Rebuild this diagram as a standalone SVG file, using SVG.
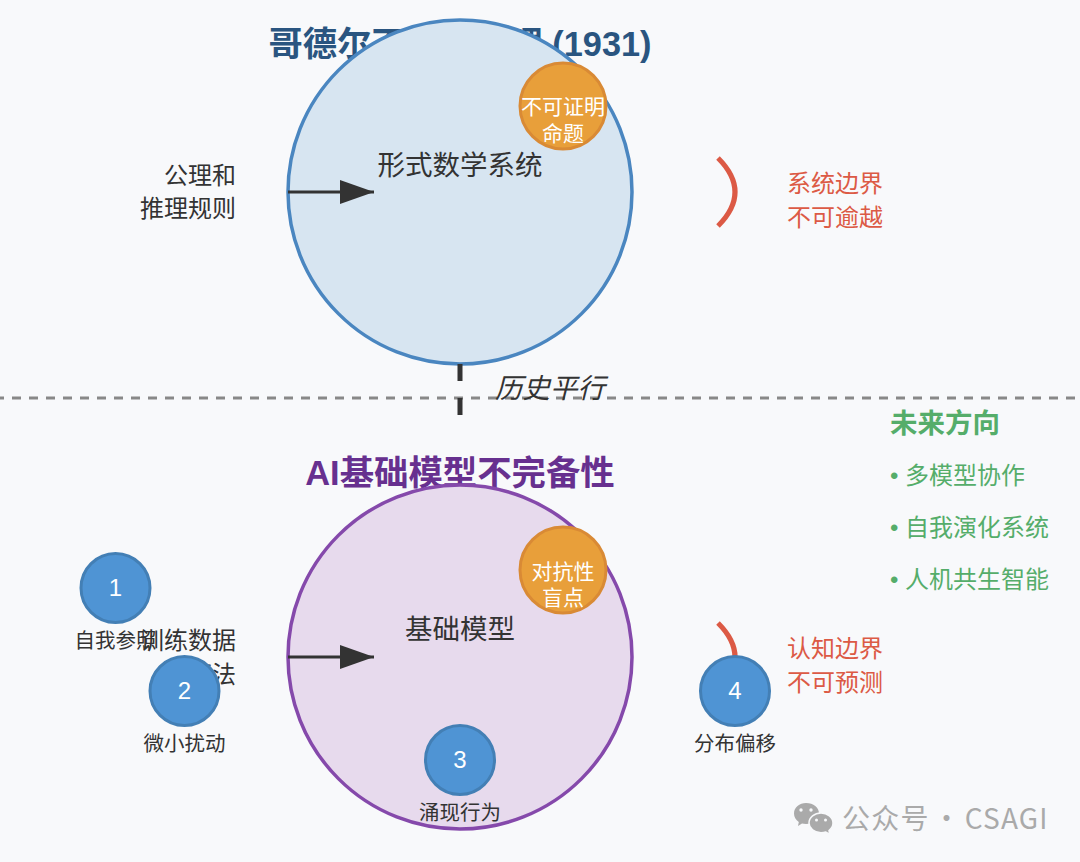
<svg xmlns="http://www.w3.org/2000/svg" width="1080" height="862" viewBox="0 0 1080 862">
<style>
text{font-family:"Liberation Sans","Noto Sans CJK SC",sans-serif;fill:#333}
.m{text-anchor:middle}
.e{text-anchor:end}
.lab{font-size:24px}
.red{font-size:24px;fill:#dc5a45}
.grn{font-size:24px;fill:#55ad6a}
.orange{fill:#e89f3a;stroke:#d98a35;stroke-width:3}
.ow{font-size:21px;fill:#fff;text-anchor:middle}
.num{fill:#4f94d4;stroke:#437fb5;stroke-width:3}
.nt{font-size:24px;fill:#fff;text-anchor:middle}
.nl{font-size:20.500px;text-anchor:middle}
.arc{fill:none;stroke:#dc5a45;stroke-width:5}
.arr{stroke:#333;stroke-width:3;fill:none;marker-end:url(#ah)}
</style>
<defs>
<marker id="ah" markerUnits="userSpaceOnUse" markerWidth="36" markerHeight="26" refX="34" refY="12" orient="auto"><path d="M0 0L34 12L0 24Z" fill="#333"/></marker>
</defs>
<rect width="1080" height="862" fill="#f8f9fb"/>
<text id="title1" x="460" y="56" class="m" font-size="34.300" font-weight="700" style="fill:#2a5580">哥德尔不完备定理 (1931)</text>
<text id="title2" x="460" y="485" class="m" font-size="34.400" font-weight="700" style="fill:#67308f">AI基础模型不完备性</text>
<g id="divider"><line x1="0" y1="398" x2="1080" y2="398" stroke="#888" stroke-width="3" stroke-dasharray="9 8" stroke-dashoffset="5"/></g>
<g id="system-top"><circle cx="460" cy="192" r="172" fill="#d7e5f1" stroke="#4a86c0" stroke-width="3.500"/><text x="460" y="175" class="m" font-size="27.500">形式数学系统</text></g>
<g id="system-bottom"><circle cx="460" cy="657" r="172" fill="#e7daed" stroke="#8549ab" stroke-width="3.500"/><text x="460" y="639" class="m" font-size="27.500">基础模型</text></g>
<g id="connectors">
<line class="arr" x1="288" y1="192" x2="374" y2="192"/>
<line class="arr" x1="288" y1="657" x2="374" y2="657"/>
<line x1="460" y1="364" x2="460" y2="415" stroke="#333" stroke-width="5" stroke-dasharray="17 17"/>
<path class="arc" d="M718 158Q752 192 718 226"/>
<path class="arc" d="M718 623Q752 657 718 691"/>
</g>
<g id="label-axioms"><text x="236" y="184" class="lab e">公理和</text><text x="236" y="217" class="lab e">推理规则</text></g>
<g id="label-data"><text x="236" y="649" class="lab e">训练数据</text><text x="236" y="683" class="lab e">和算法</text></g>
<g id="label-boundary1"><text x="835" y="192" class="red m">系统边界</text><text x="835" y="226" class="red m">不可逾越</text></g>
<g id="label-boundary2"><text x="835" y="657" class="red m">认知边界</text><text x="835" y="691" class="red m">不可预测</text></g>
<g id="label-parallel"><text x="550" y="398" class="m" font-size="27.500" font-style="italic">历史平行</text></g>
<g id="node-unprovable"><circle class="orange" cx="563" cy="106" r="43"/><text x="563" y="114" class="ow">不可证明</text><text x="563" y="141" class="ow">命题</text></g>
<g id="node-adversarial"><circle class="orange" cx="563" cy="570" r="43"/><text x="563" y="579" class="ow">对抗性</text><text x="563" y="605" class="ow">盲点</text></g>
<g id="node-1"><circle class="num" cx="115.500" cy="588" r="34.500"/><text x="115.500" y="596" class="nt">1</text><text x="115.500" y="648" class="nl">自我参照</text></g>
<g id="node-2"><circle class="num" cx="184.500" cy="691" r="34.500"/><text x="184.500" y="699" class="nt">2</text><text x="184.500" y="751" class="nl">微小扰动</text></g>
<g id="node-3"><circle class="num" cx="460" cy="760" r="34.500"/><text x="460" y="768" class="nt">3</text><text x="460" y="820" class="nl">涌现行为</text></g>
<g id="node-4"><circle class="num" cx="735" cy="691" r="34.500"/><text x="735" y="699" class="nt">4</text><text x="735" y="751" class="nl">分布偏移</text></g>
<g id="future"><text x="890" y="433" font-size="27.500" font-weight="700" style="fill:#55ad6a">未来方向</text><text x="890" y="484" class="grn">• 多模型协作</text><text x="890" y="536" class="grn">• 自我演化系统</text><text x="890" y="588" class="grn">• 人机共生智能</text></g>
<g id="watermark"><path d="M806 803c7.500 0 13 4.500 13 10.500 0 6-5.500 10.500-13 10.500-1.500 0-3-.2-4-.5l-4 2.500 .8-4c-3-2-4.800-5-4.800-8.500 0-6 5.500-10.500 12-10.500Z" fill="#aaa"/><path d="M821 813c6.500 0 12 4.500 12 10 0 3-1.500 5.500-4 7.500l.8 4-4-2.500c-1.500.5-3 .7-4.800.7-6.500 0-12-4.500-12-9.700 0-5.500 5.500-10 12-10Z" fill="#aaa" stroke="#f8f9fb" stroke-width="1.500"/><g fill="#f8f9fb"><circle cx="801" cy="810" r="1.700"/><circle cx="811" cy="810" r="1.700"/><circle cx="816.500" cy="820" r="1.500"/><circle cx="825.500" cy="820" r="1.500"/></g><text x="842" y="829" font-size="28" letter-spacing="1.200" word-spacing="-4.500" style="fill:#aaa;font-family:'Noto Sans CJK SC',sans-serif">公众号 · CSAGI</text></g>
</svg>
